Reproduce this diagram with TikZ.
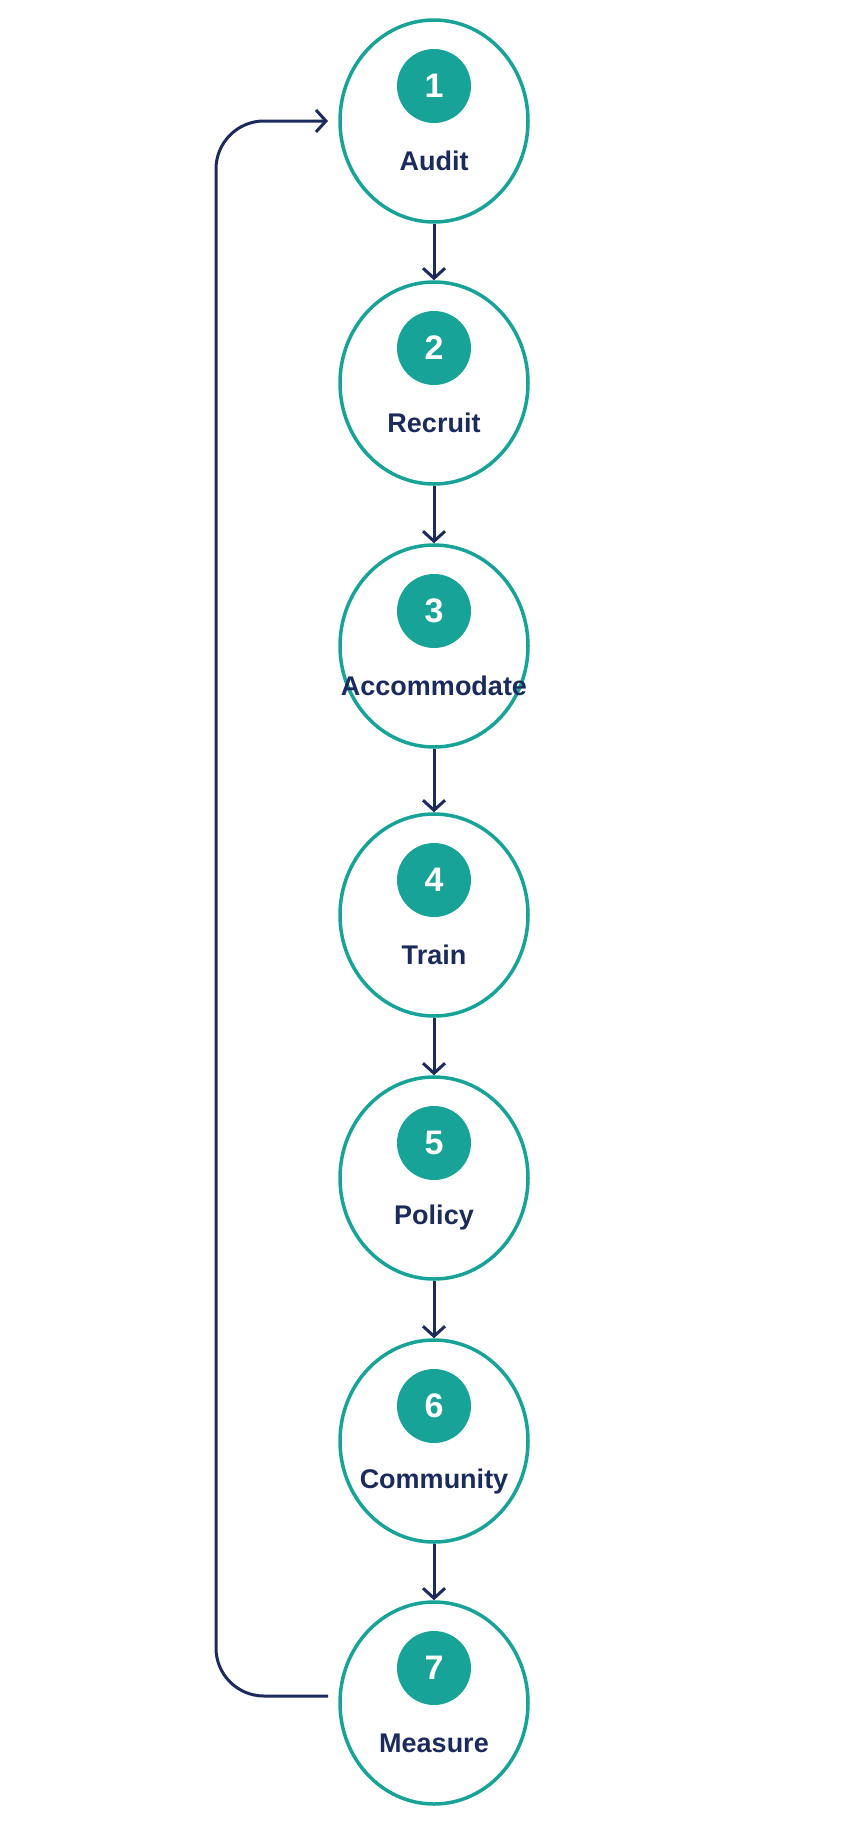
\documentclass[tikz,border=0pt]{standalone}
\usepackage{fontspec}
\setmainfont{Liberation Sans}
\usetikzlibrary{arrows.meta,shapes.geometric}
\definecolor{teal1}{HTML}{17A398}
\definecolor{navy}{HTML}{1B2B5E}
\begin{document}
\begin{tikzpicture}[x=1pt,y=-1pt,
  stepnode/.style={draw=teal1,line width=3.5pt,ellipse,minimum width=188pt,minimum height=202pt,fill=white},
  badge/.style={circle,fill=teal1,minimum size=74pt,inner sep=0pt,text=white,font=\fontsize{34}{34}\selectfont\bfseries},
  lab/.style={text=navy,font=\fontsize{27}{27}\selectfont\bfseries},
  arr/.style={draw=navy,line width=3pt,-{Straight Barb[length=10pt,width=22pt,line width=3pt]}}]
\useasboundingbox[fill=white] (0,0) rectangle (864,1821);
\foreach \i/\y/\t in {1/121/Audit,2/383/Recruit,3/646/Accommodate,4/915/Train,5/1178/Policy,6/1441/Community,7/1703/Measure}{
  \node[stepnode] (s\i) at (434,\y) {};
  \node[badge] (b\i) at (434,\y-35) {\i};
  \node[lab] (l\i) at (434,\y+40) {\t};
}
\foreach \a/\b in {1/2,2/3,3/4,4/5,5/6,6/7}{\draw[arr] (s\a) -- (s\b);}
\coordinate (c0) at (328,1696);
\coordinate (c1) at (216,1696);
\coordinate (c2) at (216,121);
\coordinate (c3) at (328,121);
\draw[arr,rounded corners=48pt] (c0) -- (c1) -- (c2) -- (c3);
\end{tikzpicture}
\end{document}
